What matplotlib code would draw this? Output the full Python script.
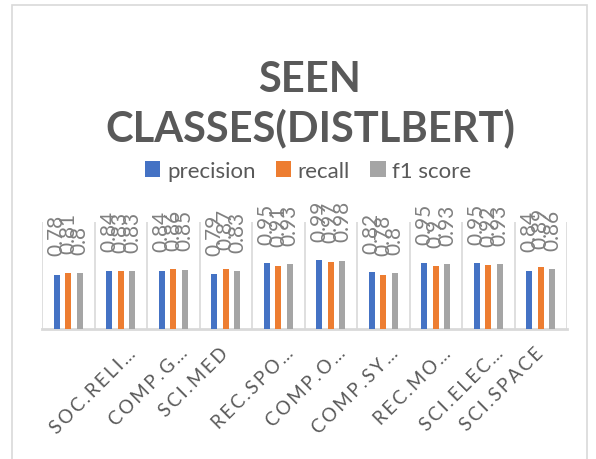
import matplotlib.pyplot as plt
import matplotlib.patches as patches
import matplotlib.transforms as mtransforms
import numpy as np

# data
categories = ['', 'SOC.RELI…', 'COMP.G…', 'SCI.MED', 'REC.SPO…', 'COMP.O…',
              'COMP.SY…', 'REC.MO…', 'SCI.ELEC…', 'SCI.SPACE']
precision = [0.78, 0.84, 0.84, 0.79, 0.95, 0.99, 0.82, 0.95, 0.95, 0.84]
recall = [0.81, 0.83, 0.86, 0.87, 0.91, 0.97, 0.78, 0.90, 0.92, 0.89]
f1_score = [0.80, 0.83, 0.85, 0.83, 0.93, 0.98, 0.80, 0.93, 0.93, 0.86]

series = [('precision', precision, '#4472C4'),
          ('recall', recall, '#ED7D31'),
          ('f1 score', f1_score, '#A5A5A5')]

txt = '#595959'
grid = '#d9d9d9'

fig = plt.figure(figsize=(5.96, 4.60), dpi=100)
fig.patch.set_facecolor('white')

# chart area border
fig.patches.append(patches.Rectangle((12 / 596, -0.02), 575 / 596, 1.0 - 6 / 460 + 0.02,
                                     transform=fig.transFigure, fill=False,
                                     edgecolor=grid, linewidth=1.2))

ax = fig.add_axes([42 / 596, 130 / 460, 525 / 596, 107 / 460])

x = np.arange(len(categories))
w = 0.12
step = 0.22
for i, (name, vals, col) in enumerate(series):
    pos = x + (i - 1) * step
    ax.bar(pos, vals, width=w, color=col, label=name, zorder=3)
    for p, v in zip(pos, vals):
        ax.annotate(f'{v:g}', (p, v), xytext=(0, 14), textcoords='offset points',
                    rotation=90, ha='center', va='bottom', fontsize=15,
                    color='#808080', family='Lato', annotation_clip=False)

ax.set_xlim(-0.5, len(categories) - 0.5)
ax.set_ylim(0, 1.54)
ax.set_yticks([])
for b in np.arange(-0.5, len(categories), 1.0):
    ax.axvline(b, color=grid, linewidth=1.2, zorder=1)
for s in ['top', 'right', 'left']:
    ax.spines[s].set_visible(False)
ax.spines['bottom'].set_color(grid)
ax.spines['bottom'].set_linewidth(2)

# spaced-out tick labels like the original
spaced = ['\u2009'.join(c) for c in categories]
ax.set_xticks(x)
ax.set_xticklabels(spaced, rotation=45, ha='right', va='center', rotation_mode='anchor',
                   fontsize=13.5, color=txt, family='Lato')
ax.tick_params(axis='x', length=0, pad=15)
for lab, c in zip(ax.get_xticklabels(), categories):
    if c.endswith('…'):
        lab.set_transform(lab.get_transform() +
                          mtransforms.ScaledTranslation(0.12, 0.0, fig.dpi_scale_trans))

fig.text(0.52, 1 - 92 / 460, 'SEEN', ha='center', va='baseline',
         fontsize=30, fontweight='bold', color=txt, family='Lato')
fig.text(0.52, 1 - 141 / 460, 'CLASSES(DISTLBERT)', ha='center', va='baseline',
         fontsize=30, fontweight='bold', color=txt, family='Lato')

leg = fig.legend(loc='center', bbox_to_anchor=(0.517, 0.627), ncol=3, frameon=False,
                 handlelength=0.7, handleheight=0.7, handletextpad=0.3,
                 columnspacing=0.9, prop={'family': 'Lato', 'size': 16})
for t in leg.get_texts():
    t.set_color(txt)

fig.savefig('out.png', dpi=100)
